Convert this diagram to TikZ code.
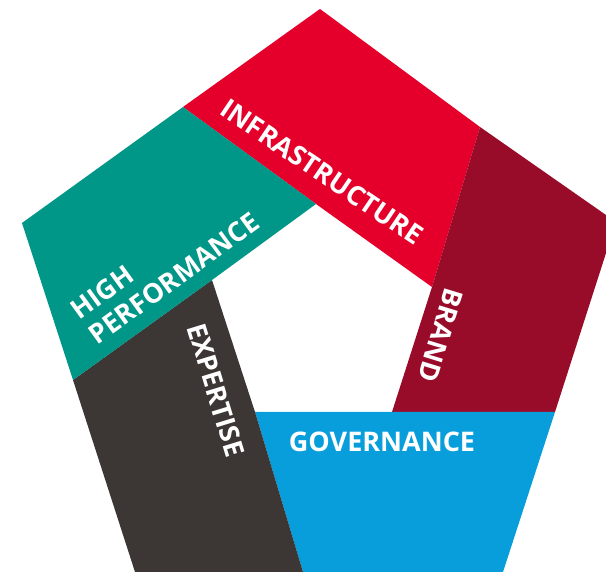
\documentclass[tikz,border=0pt]{standalone}
\usepackage{fontspec}
\setmainfont{Open Sans}
\definecolor{infrared}{RGB}{228,0,43}
\definecolor{brandred}{RGB}{152,12,42}
\definecolor{perfteal}{RGB}{0,150,136}
\definecolor{expgrey}{RGB}{60,54,52}
\definecolor{govblue}{RGB}{8,158,220}
\begin{document}
\begin{tikzpicture}[x=1pt,y=1pt,
  word/.style={text=white,font=\bfseries\fontsize{27}{31}\selectfont,inner sep=0pt}]
\useasboundingbox (0,0) rectangle (606,572);
\clip (0,0) rectangle (606,572);
% outer pentagon and the cuts on it
\coordinate (top) at (320,563);
\coordinate (rb) at (480,445);
\coordinate (right) at (616,350);
\coordinate (bg) at (555,160);
\coordinate (botr) at (503,0);
\coordinate (gb) at (303,0);
\coordinate (botl) at (135,0);
\coordinate (ge) at (73,192);
\coordinate (left) at (22,349);
\coordinate (tr) at (183,465);
% inner hole
\coordinate (ht) at (316,368);
\coordinate (hr) at (432,285);
\coordinate (hbr) at (392,160);
\coordinate (hbl) at (255,160);
\coordinate (hl) at (212,292);

\path[fill=infrared] (tr) -- (top) -- (rb) -- (hr) -- (ht) -- cycle;
\path[fill=brandred] (rb) -- (right) -- (bg) -- (hbr) -- (hr) -- cycle;
\path[fill=govblue] (hbl) -- (bg) -- (botr) -- (gb) -- cycle;
\path[fill=expgrey] (ge) -- (botl) -- (gb) -- (hbl) -- (hl) -- cycle;
\path[fill=perfteal] (tr) -- (left) -- (ge) -- (hl) -- (ht) -- cycle;

\node[word,rotate=-34] (infra) at (322,400) {INFRASTRUCTURE};
\node[word,rotate=36,align=left] (perf) at (165,306) {HIGH\\PERFORMANCE};
\node[word,rotate=-73] (expert) at (216,182) {EXPERTISE};
\node[word,rotate=-107] (brand) at (441,237) {BRAND};
\node[word] (gov) at (382,130) {GOVERNANCE};
\end{tikzpicture}
\end{document}
